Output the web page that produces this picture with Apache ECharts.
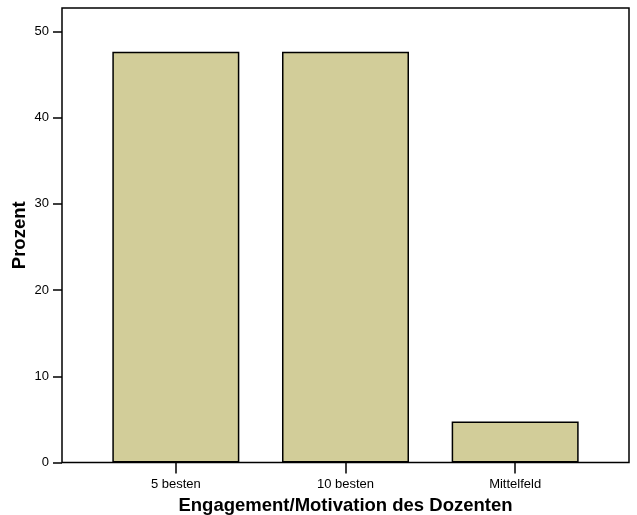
<!DOCTYPE html>
<html><head><meta charset="utf-8">
<script src="https://cdn.jsdelivr.net/npm/echarts@6/dist/echarts.min.js"></script>
<style>html,body{margin:0;padding:0;background:#fff}#c{width:637px;height:515px}</style>
</head><body><div id="c"></div>
<script>
const categories = ['5 besten', '10 besten', 'Mittelfeld'];
const values = [47.62, 47.62, 4.76];
const yTicks = [0, 10, 20, 30, 40, 50];
const yTitle = 'Prozent';
const xTitle = 'Engagement/Motivation des Dozenten';

const FONT = '"Liberation Sans", Arial, sans-serif';
const YMAX = 52.7;
const chart = echarts.init(document.getElementById('c'), null, {renderer: 'canvas'});
chart.setOption({
  animation: false,
  backgroundColor: '#fff',
  grid: [
    {left: 62, right: 8, top: 8, bottom: 52.5, show: true, borderColor: '#000', borderWidth: 1.5, backgroundColor: 'transparent', containLabel: false, outerBoundsMode: 'none'},
    {left: 91, right: 37, top: 8, bottom: 52.5, containLabel: false, outerBoundsMode: 'none'}
  ],
  xAxis: [
    {type: 'value', gridIndex: 0, show: false, min: 0, max: 1},
    {type: 'category', gridIndex: 1, data: categories,
     name: xTitle, nameLocation: 'middle', nameGap: 34,
     nameTextStyle: {fontFamily: FONT, fontSize: 18.5, fontWeight: 'bold', color: '#000'},
     axisLine: {show: false},
     axisTick: {show: true, alignWithLabel: true, length: 11, lineStyle: {color: '#000', width: 1.5}},
     axisLabel: {margin: 15, fontFamily: FONT, fontSize: 13, color: '#000'}}
  ],
  yAxis: [
    {type: 'value', gridIndex: 0, min: 0, max: YMAX,
     name: yTitle, nameLocation: 'middle', nameGap: 33, nameMoveOverlap: false,
     nameTextStyle: {fontFamily: FONT, fontSize: 18.5, fontWeight: 'bold', color: '#000'},
     axisLine: {show: false},
     splitLine: {show: false},
     axisTick: {show: true, length: 9, customValues: yTicks, lineStyle: {color: '#000', width: 1.5}},
     axisLabel: {margin: 13, customValues: yTicks, fontFamily: FONT, fontSize: 13, color: '#000'}},
    {type: 'value', gridIndex: 1, min: 0, max: YMAX, show: false, splitLine: {show: false}}
  ],
  series: [{
    type: 'bar', xAxisIndex: 1, yAxisIndex: 1, data: values, barWidth: 127,
    itemStyle: {color: '#d2cd99', borderColor: '#000', borderWidth: 1.5}
  }]
});
</script></body></html>
